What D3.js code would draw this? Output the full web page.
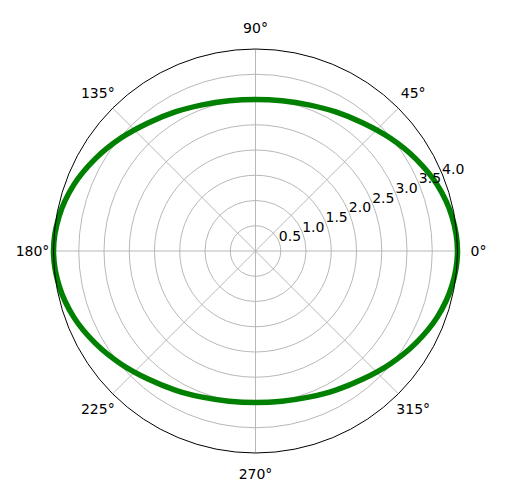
<!DOCTYPE html>
<html>
<head>
<meta charset="utf-8">
<script src="https://cdn.jsdelivr.net/npm/d3@7"></script>
<style>
  html, body { margin: 0; padding: 0; background: #fff; }
  svg { display: block; }
  text { font-family: "DejaVu Sans", sans-serif; }
</style>
</head>
<body>
<svg id="chart" width="517" height="504"></svg>
<script>
// Data: angle (degrees) and radius
const anglesDeg = [0,10,20,30,40,50,60,70,80,90,100,110,120,130,140,150,160,170,
                   180,190,200,210,220,230,240,250,260,270,280,290,300,310,320,330,340,350];
const radii = [4.00,3.95,3.83,3.66,3.48,3.31,3.18,3.08,3.02,3.00,3.02,3.08,3.18,3.31,3.48,3.66,3.83,3.95,
               4.00,3.95,3.83,3.66,3.48,3.31,3.18,3.08,3.02,3.00,3.02,3.08,3.18,3.31,3.48,3.66,3.83,3.95];
const ringTicks = [0.5,1.0,1.5,2.0,2.5,3.0,3.5,4.0];
const ringLabels = ["0.5","1.0","1.5","2.0","2.5","3.0","3.5","4.0"];
const angleTicks = [0,45,90,135,180,225,270,315];
const angleLabels = ["0°","45°","90°","135°","180°","225°","270°","315°"];
const rMax = 4.0;

const svg = d3.select("#chart");
const cx = 255.5, cy = 251, R = 202;
const g = svg.append("g").attr("transform", `translate(${cx},${cy})`);

const r = d3.scaleLinear().domain([0, rMax]).range([0, R]);
const toRad = d => d * Math.PI / 180;

// grid rings
g.selectAll("circle.ring").data(ringTicks.filter(t => t < rMax)).enter()
  .append("circle").attr("class", "ring")
  .attr("r", d => r(d)).attr("fill", "none")
  .attr("stroke", "#b0b0b0").attr("stroke-width", 0.9);

// spokes
g.selectAll("line.spoke").data(angleTicks).enter()
  .append("line").attr("class", "spoke")
  .attr("x1", 0).attr("y1", 0)
  .attr("x2", d => R * Math.cos(toRad(d)))
  .attr("y2", d => -R * Math.sin(toRad(d)))
  .attr("stroke", "#b0b0b0").attr("stroke-width", 0.9);

// data curve
const line = d3.lineRadial()
  .angle(d => Math.PI / 2 - toRad(d[0]))
  .radius(d => r(d[1]))
  .curve(d3.curveCardinalClosed);
const pts = anglesDeg.map((a, i) => [a, radii[i]]);
g.append("path").datum(pts)
  .attr("d", line)
  .attr("fill", "none")
  .attr("stroke", "#008000")
  .attr("stroke-width", 5.5);

// outer spine
g.append("circle").attr("r", R).attr("fill", "none")
  .attr("stroke", "#000").attr("stroke-width", 1);

// angle labels
const labR = 223;
g.selectAll("text.ang").data(angleTicks).enter()
  .append("text").attr("class", "ang")
  .attr("x", d => labR * Math.cos(toRad(d)))
  .attr("y", d => -labR * Math.sin(toRad(d)))
  .attr("text-anchor", "middle")
  .attr("dominant-baseline", "central")
  .attr("font-size", 14)
  .attr("fill", "#000")
  .text((d, i) => angleLabels[i]);

// radial labels at 22.5°
const rl = toRad(22.5);
g.selectAll("text.rad").data(ringTicks).enter()
  .append("text").attr("class", "rad")
  .attr("x", d => r(d) * Math.cos(rl))
  .attr("y", d => -r(d) * Math.sin(rl))
  .attr("text-anchor", "start")
  .attr("font-size", 14)
  .attr("fill", "#000")
  .text((d, i) => ringLabels[i]);
</script>
</body>
</html>
